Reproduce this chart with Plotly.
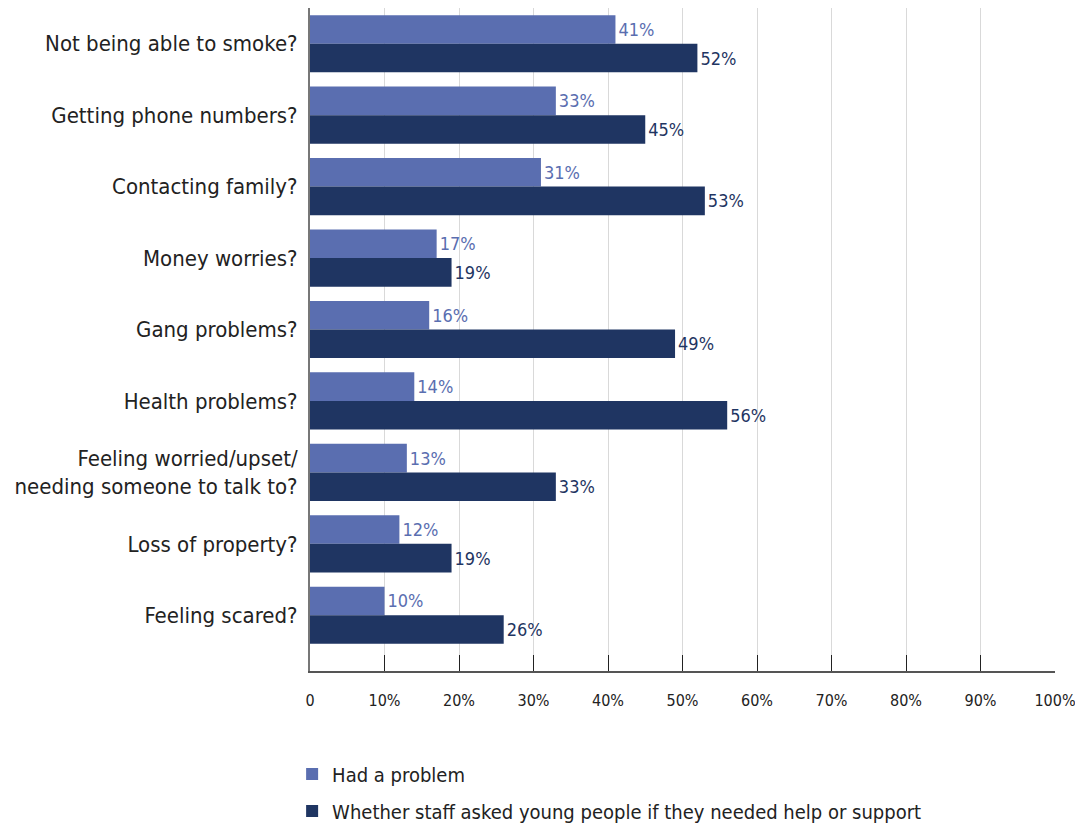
import plotly.graph_objects as go

categories = [
    "Not being able to smoke?",
    "Getting phone numbers?",
    "Contacting family?",
    "Money worries?",
    "Gang problems?",
    "Health problems?",
    "Feeling worried/upset/<br>needing someone to talk to?",
    "Loss of property?",
    "Feeling scared?",
]
had_problem = [41, 33, 31, 17, 16, 14, 13, 12, 10]
staff_asked = [52, 45, 53, 19, 49, 56, 33, 19, 26]
tick_vals = [0, 10, 20, 30, 40, 50, 60, 70, 80, 90, 100]
tick_text = ["0", "10%", "20%", "30%", "40%", "50%", "60%", "70%", "80%", "90%", "100%"]

FONT = "DejaVu Sans Condensed, Liberation Sans Narrow, Roboto Condensed, sans-serif"
LIGHT = "#5a6eb0"
DARK = "#1f3562"

fig = go.Figure()
fig.add_trace(go.Bar(
    y=categories, x=had_problem, orientation="h", name="Had a problem",
    legendgroup="a",
    marker=dict(color=LIGHT, line=dict(width=0)),
    text=[f"{v}%" for v in had_problem], texttemplate="%{text}",
    textposition="outside",
    textfont=dict(color=LIGHT, size=18, family=FONT), cliponaxis=False,
))
fig.add_trace(go.Bar(
    y=categories, x=staff_asked, orientation="h",
    name="Whether staff asked young people if they needed help or support",
    legendgroup="b",
    marker=dict(color=DARK, line=dict(width=0)),
    text=[f"{v}%" for v in staff_asked], texttemplate="%{text}",
    textposition="outside",
    textfont=dict(color=DARK, size=18, family=FONT), cliponaxis=False,
))

fig.update_layout(
    width=1083, height=827,
    margin=dict(l=302, r=36, t=0, b=164, autoexpand=False),
    barmode="group", bargap=0.2, bargroupgap=0,
    plot_bgcolor="white", paper_bgcolor="white",
    font=dict(family=FONT, color="#222222"),
    showlegend=True,
    legend=dict(
        orientation="v", x=-0.024, xanchor="left", y=-0.126, yanchor="top",
        font=dict(size=20, family=FONT, color="#222222"), traceorder="grouped",
        itemwidth=30, tracegroupgap=8,
    ),
)
fig.update_xaxes(
    range=[0, 100], tickvals=tick_vals, ticktext=tick_text,
    showgrid=True, gridcolor="#d9d9d9", gridwidth=1,
    ticks="inside", ticklen=16, tickcolor="#222222", tickwidth=1,
    showline=True, linecolor="#555555", linewidth=2,
    tickfont=dict(size=16, family=FONT, color="#222222"),
    ticklabelstandoff=14, zeroline=False, fixedrange=True, automargin=False,
)
fig.update_yaxes(
    categoryorder="array", categoryarray=categories,
    range=[8.78, -0.5], showgrid=False,
    showline=True, linecolor="#777777", linewidth=2,
    ticks="", tickfont=dict(size=22, family=FONT, color="#222222"),
    ticklabelstandoff=6, zeroline=False, fixedrange=True, automargin=False,
)

fig.write_html("out.html")
